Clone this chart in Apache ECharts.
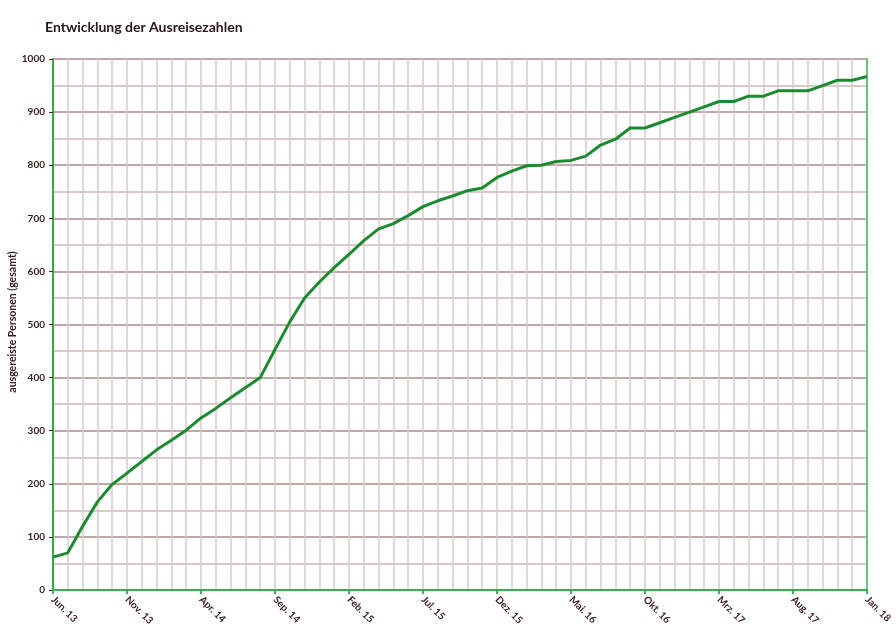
<!DOCTYPE html>
<html>
<head>
<meta charset="utf-8">
<script src="https://cdn.jsdelivr.net/npm/echarts@6/dist/echarts.min.js"></script>
<style>html,body{margin:0;padding:0;background:#fff;}#c{width:896px;height:629px;}</style>
</head>
<body>
<div id="c"></div>
<script>
var categories = [
  "Jun. 13","Jul. 13","Aug. 13","Sep. 13","Okt. 13","Nov. 13","Dez. 13",
  "Jan. 14","Feb. 14","Mrz. 14","Apr. 14","Mai. 14","Jun. 14","Jul. 14","Aug. 14","Sep. 14","Okt. 14","Nov. 14","Dez. 14",
  "Jan. 15","Feb. 15","Mrz. 15","Apr. 15","Mai. 15","Jun. 15","Jul. 15","Aug. 15","Sep. 15","Okt. 15","Nov. 15","Dez. 15",
  "Jan. 16","Feb. 16","Mrz. 16","Apr. 16","Mai. 16","Jun. 16","Jul. 16","Aug. 16","Sep. 16","Okt. 16","Nov. 16","Dez. 16",
  "Jan. 17","Feb. 17","Mrz. 17","Apr. 17","Mai. 17","Jun. 17","Jul. 17","Aug. 17","Sep. 17","Okt. 17","Nov. 17","Dez. 17",
  "Jan. 18"
];
var ausgereist = [
  62, 70, 120, 166, 199, 220, 242, 264, 282, 301, 324, 342, 362, 381, 400,
  453, 505, 550, 580, 607, 632, 658, 680, 690, 705, 722, 733, 742, 752, 757,
  777, 789, 799, 800, 807, 809, 817, 838, 849, 870, 870, 880, 890, 900, 910,
  920, 920, 930, 930, 940, 940, 940, 950, 960, 960, 967
];
var titleText = "Entwicklung der Ausreisezahlen";
var yAxisName = "ausgereiste Personen (gesamt)";

var chart = echarts.init(document.getElementById('c'), null, {renderer: 'canvas'});
var txt = '#3a1c1c';
chart.setOption({
  animation: false,
  backgroundColor: '#ffffff',
  title: {
    text: titleText, left: 40, top: 15,
    textStyle: {fontFamily: 'Lato', fontWeight: 'bold', fontSize: 14, color: '#2a1414'}
  },
  graphic: [{
    type: 'text', x: 13, y: 322, rotation: Math.PI / 2,
    style: {text: yAxisName, fill: txt, font: 'bold 10.5px Lato', align: 'center', verticalAlign: 'middle'}
  }],
  grid: {left: 53, right: 29, top: 59, bottom: 39, containLabel: false, outerBoundsMode: 'none'},
  xAxis: {
    type: 'category', data: categories, boundaryGap: false,
    axisLine: {lineStyle: {color: '#3cae4e', width: 2}},
    axisTick: {show: true, interval: 4, length: 4, lineStyle: {color: '#3cae4e', width: 2}},
    axisLabel: {interval: 4, rotate: -45, margin: 8, color: txt, fontFamily: 'Lato', fontWeight: 'bold', fontSize: 10},
    splitLine: {show: true, interval: 0, lineStyle: {color: '#d8c8c8', width: 1.5}}
  },
  yAxis: [{
    type: 'value', min: 0, max: 1000, interval: 100,
    axisLine: {show: true, lineStyle: {color: '#2fae45', width: 2}},
    axisTick: {show: true, length: 4, lineStyle: {color: '#4a2a2a'}},
    axisLabel: {color: txt, fontFamily: 'Lato', fontWeight: 'bold', fontSize: 10, margin: 8,
      formatter: function (v) { return String(v); }},
    splitLine: {show: true, lineStyle: {color: '#a88c8c', width: 1.5}},
    minorTick: {show: false, splitNumber: 2},
    minorSplitLine: {show: true, lineStyle: {color: '#cdb8b8', width: 1.5}}
  }, {
    type: 'value', min: 0, max: 1000, interval: 100, position: 'right',
    axisLine: {show: true, lineStyle: {color: '#6cc37a', width: 2}},
    axisTick: {show: false}, axisLabel: {show: false}, splitLine: {show: false}
  }],
  series: [{
    type: 'line', data: ausgereist, yAxisIndex: 0,
    showSymbol: false, symbol: 'none',
    lineStyle: {color: '#1c8a30', width: 3},
    z: 5
  }]
});
</script>
</body>
</html>
